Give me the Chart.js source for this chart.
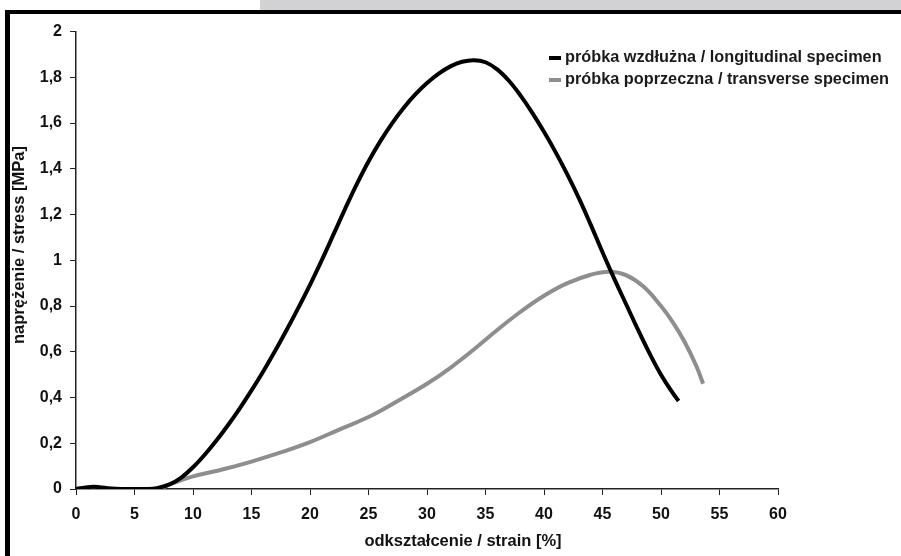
<!DOCTYPE html>
<html>
<head>
<meta charset="utf-8">
<script src="https://cdn.jsdelivr.net/npm/chart.js@4/dist/chart.umd.min.js"></script>
<style>
  html, body { margin: 0; padding: 0; background: #fff; }
  body { width: 901px; height: 556px; position: relative; overflow: hidden; }
  #band { position: absolute; left: 260px; top: 0; width: 641px; height: 10px; background: #d2d2d4; }
  #topBorder { position: absolute; left: 5px; top: 10px; width: 896px; height: 4px; background: #000; }
  #leftBorder { position: absolute; left: 5px; top: 10px; width: 5px; height: 546px; background: #000; }
  #wrap { position: absolute; left: 10px; top: 14px; width: 891px; height: 542px; }
</style>
</head>
<body>
<div id="band"></div>
<div id="topBorder"></div>
<div id="leftBorder"></div>
<div id="wrap"><canvas id="stressChart"></canvas></div>
<script>
// longitudinal specimen (black)
const longStrain = [0, 1, 1.5, 2, 3, 4, 5, 6, 7, 8, 9, 10, 11, 12, 13, 14, 15, 16, 17, 18, 19, 20, 21, 22, 23, 24, 25, 26, 27, 28, 29, 30, 31, 32, 33, 34, 35, 36, 37, 38, 39, 40, 41, 42, 43, 44, 45, 46, 47, 48, 49, 50, 51, 51.5];
const longStress = [0, 0.008, 0.01, 0.008, 0.002, 0, 0, 0, 0.005, 0.02, 0.05, 0.095, 0.15, 0.212, 0.28, 0.353, 0.431, 0.514, 0.602, 0.695, 0.792, 0.893, 1.0, 1.112, 1.225, 1.333, 1.432, 1.52, 1.598, 1.666, 1.725, 1.775, 1.816, 1.848, 1.868, 1.875, 1.866, 1.835, 1.785, 1.72, 1.645, 1.562, 1.472, 1.375, 1.27, 1.155, 1.035, 0.92, 0.81, 0.7, 0.595, 0.5, 0.42, 0.385];

// transverse specimen (grey)
const transStrain = [0, 7, 8, 10, 12.5, 15, 17.5, 20, 22.5, 25, 27.5, 30, 32, 34, 36, 38, 40, 42, 44, 45.6, 47, 48.5, 50, 51, 52, 53, 53.6];
const transStress = [0, 0, 0.02, 0.055, 0.085, 0.12, 0.16, 0.205, 0.26, 0.315, 0.385, 0.46, 0.53, 0.61, 0.695, 0.775, 0.845, 0.9, 0.937, 0.95, 0.935, 0.885, 0.8, 0.73, 0.645, 0.54, 0.46];

const seriesLabels = ['próbka wzdłużna / longitudinal specimen', 'próbka poprzeczna / transverse specimen'];
const xTitle = 'odkształcenie / strain [%]';
const yTitle = 'naprężenie / stress [MPa]';

const toPoints = (xs, ys) => xs.map((x, i) => ({ x: x, y: ys[i] }));

const FONT = 'Liberation Sans, Arial, sans-serif';

// legend inside the plot (top right) and the two axis titles
const chartText = {
    id: 'chartText',
    afterDraw(chart) {
        const ctx = chart.ctx;
        ctx.save();
        ctx.font = 'bold 16.3px ' + FONT;
        ctx.textBaseline = 'middle';
        chart.data.datasets.forEach((ds, i) => {
            const y = 44 + i * 22;
            ctx.fillStyle = ds.borderColor;
            ctx.fillRect(539, y - 2, 12, 4);
            ctx.fillStyle = '#1a1a1a';
            ctx.fillText(ds.label, 555, y);
        });

        ctx.font = 'bold 16.5px ' + FONT;
        ctx.fillStyle = '#111';
        ctx.textAlign = 'center';
        ctx.fillText(xTitle, 453, 527);

        ctx.translate(9, 231);
        ctx.rotate(-Math.PI / 2);
        ctx.fillText(yTitle, 0, 0);
        ctx.restore();
    }
};

new Chart(document.getElementById('stressChart').getContext('2d'), {
    type: 'line',
    data: {
        datasets: [{
            label: seriesLabels[0],
            data: toPoints(longStrain, longStress),
            borderColor: '#000000',
            borderWidth: 4,
            pointRadius: 0,
            tension: 0.4
        }, {
            label: seriesLabels[1],
            data: toPoints(transStrain, transStress),
            borderColor: '#8e8e8e',
            borderWidth: 4,
            pointRadius: 0,
            tension: 0.4
        }]
    },
    options: {
        responsive: true,
        maintainAspectRatio: false,
        animation: false,
        layout: {
            padding: { left: 0, top: 15, right: 123, bottom: 0 }
        },
        scales: {
            x: {
                type: 'linear',
                min: 0,
                max: 60,
                ticks: {
                    stepSize: 5,
                    color: '#111',
                    padding: 10,
                    font: { family: FONT, size: 16, weight: 'bold' }
                },
                grid: { drawOnChartArea: false, drawTicks: true, tickLength: 6, color: '#222' },
                border: { display: true, color: '#222', width: 1.5 },
                afterFit(scale) { scale.height = 67; }
            },
            y: {
                min: 0,
                max: 2,
                ticks: {
                    stepSize: 0.2,
                    color: '#111',
                    padding: 8,
                    font: { family: FONT, size: 16, weight: 'bold' },
                    callback: (v) => v.toLocaleString('pl-PL', { maximumFractionDigits: 1 })
                },
                grid: { drawOnChartArea: false, drawTicks: true, tickLength: 6, color: '#222' },
                border: { display: true, color: '#222', width: 1.5 },
                afterFit(scale) { scale.width = 66; }
            }
        },
        plugins: {
            legend: { display: false },
            tooltip: { enabled: false }
        }
    },
    plugins: [chartText]
});
</script>
</body>
</html>
